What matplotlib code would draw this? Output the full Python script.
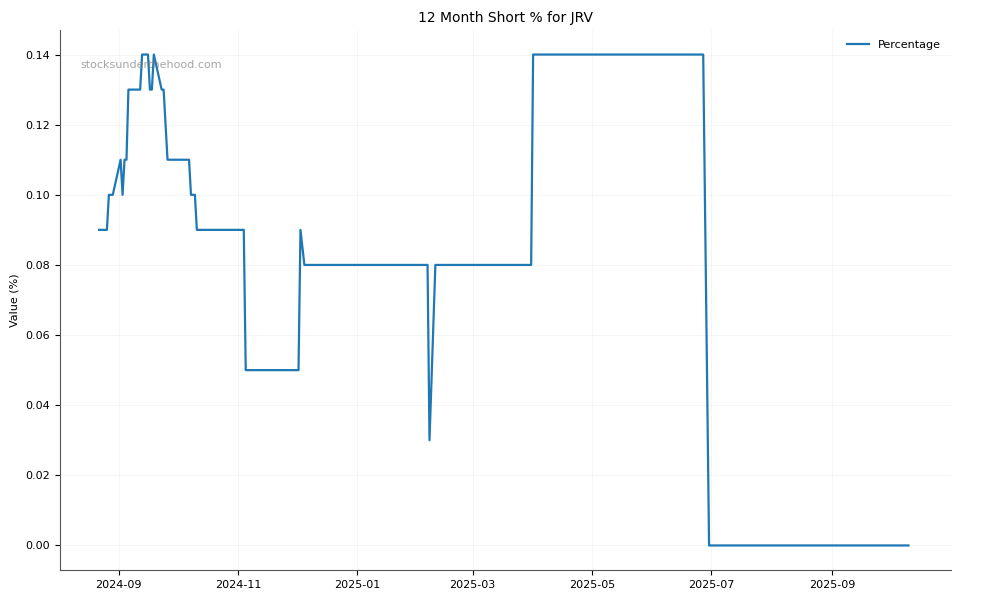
import matplotlib
matplotlib.use("Agg")
import matplotlib.pyplot as plt
import matplotlib.dates as mdates
import pandas as pd

# change points of the short percentage series
dates = [
    "2024-08-22", "2024-08-26", "2024-08-27", "2024-08-29", "2024-09-02",
    "2024-09-03", "2024-09-04", "2024-09-05", "2024-09-06", "2024-09-12",
    "2024-09-13", "2024-09-16", "2024-09-17", "2024-09-18", "2024-09-19",
    "2024-09-23", "2024-09-24", "2024-09-26", "2024-10-07", "2024-10-08",
    "2024-10-10", "2024-10-11", "2024-11-04", "2024-11-05", "2024-12-02",
    "2024-12-03", "2024-12-05", "2025-02-06", "2025-02-07", "2025-02-10",
    "2025-03-31", "2025-04-01", "2025-06-27", "2025-06-30", "2025-10-10",
]
values = [
    0.09, 0.09, 0.10, 0.10, 0.11,
    0.10, 0.11, 0.11, 0.13, 0.13,
    0.14, 0.14, 0.13, 0.13, 0.14,
    0.13, 0.13, 0.11, 0.11, 0.10,
    0.10, 0.09, 0.09, 0.05, 0.05,
    0.09, 0.08, 0.08, 0.03, 0.08,
    0.08, 0.14, 0.14, 0.00, 0.00,
]

title = "12 Month Short % for JRV"
watermark = "stocksunderthehood.com"

df = pd.DataFrame({"date": pd.to_datetime(dates), "pct": values})

fig, ax = plt.subplots(figsize=(10, 6), dpi=100)
fig.subplots_adjust(left=0.06, right=0.951, top=0.95, bottom=0.05)

ax.plot(df["date"], df["pct"], color="#1f77b4", linewidth=1.6, label="Percentage")

ax.set_xlim(pd.Timestamp("2024-08-02"), pd.Timestamp("2025-10-31 18:00"))
ax.xaxis.set_major_locator(mdates.MonthLocator(bymonth=[1, 3, 5, 7, 9, 11]))
ax.xaxis.set_major_formatter(mdates.DateFormatter("%Y-%m"))

ax.set_title(title, fontsize=10)
ax.set_ylabel("Value (%)", fontsize=8)
ax.tick_params(labelsize=8, colors="black")
ax.grid(True, color="#eeeeee", linewidth=0.6, alpha=0.7)

for side in ("top", "right"):
    ax.spines[side].set_visible(False)
for side in ("left", "bottom"):
    ax.spines[side].set_color("#555555")

ax.text(0.023, 0.935, watermark, transform=ax.transAxes, fontsize=8,
        color="grey", alpha=0.7, va="center")
ax.legend(loc="upper right", frameon=False, fontsize=8)

fig.savefig("out.png", dpi=100)
